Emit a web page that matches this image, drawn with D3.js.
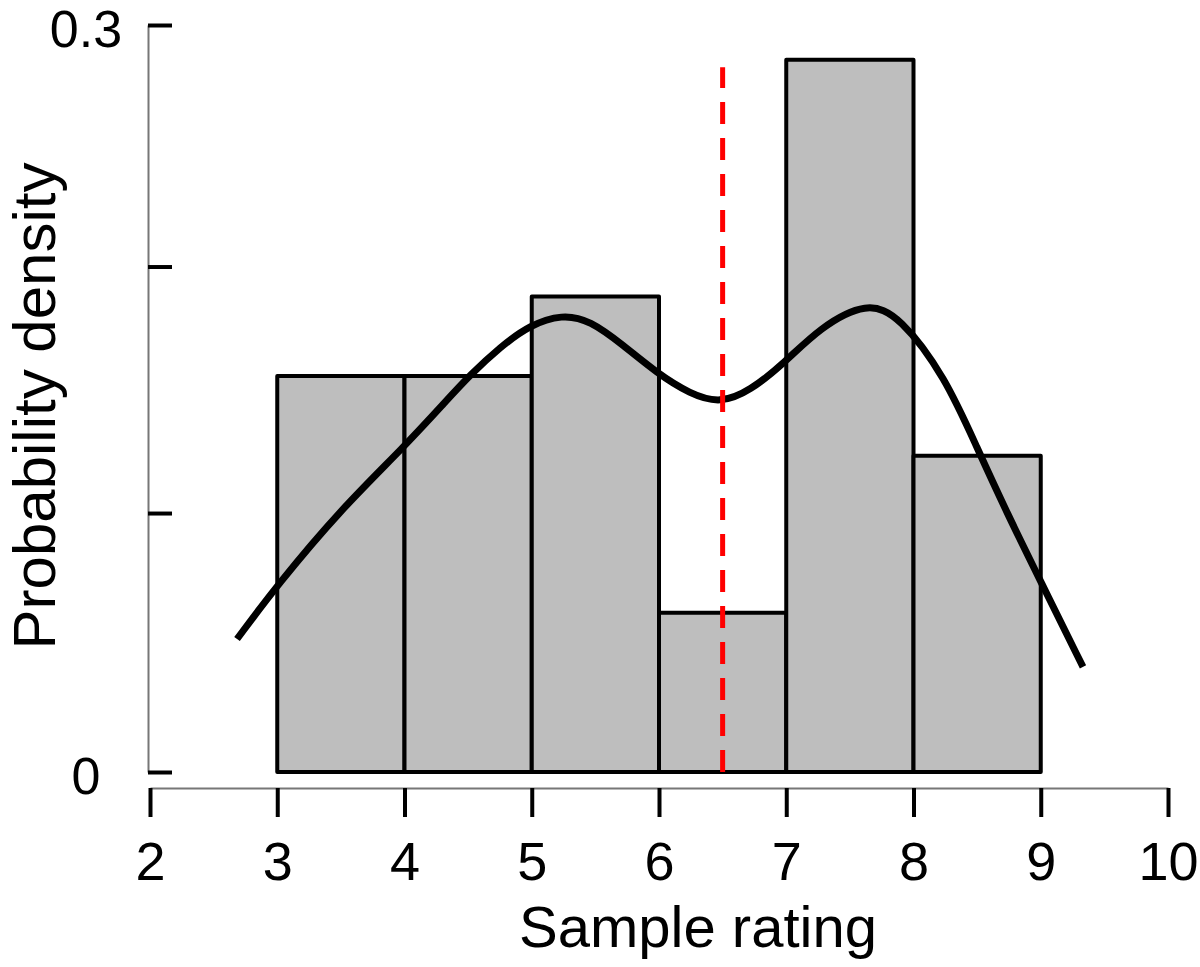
<!DOCTYPE html>
<html>
<head>
<meta charset="utf-8">
<script src="https://cdn.jsdelivr.net/npm/d3@7"></script>
<style>
  html, body { margin: 0; padding: 0; background: #fff; }
  text { font-family: "Liberation Sans", Arial, sans-serif; fill: #000; }
</style>
</head>
<body>
<div id="chart"></div>
<script>
// histogram bins (rating) and density heights
const binStart = [3, 4, 5, 6, 7, 8];
const binEnd = [4, 5, 6, 7, 8, 9];
const binDensity = [0.159, 0.159, 0.191, 0.064, 0.286, 0.127];

// kernel density curve, read point by point
const kdeX = [2.684, 3.0, 3.5, 3.996, 4.334, 4.515, 4.75, 4.986, 5.238, 5.458, 5.717, 5.984, 6.244, 6.479, 6.715, 6.990, 7.265, 7.635, 7.894, 8.25, 8.5, 8.735, 8.994, 9.332];
const kdeY = [0.0534, 0.0751, 0.1055, 0.1305, 0.1494, 0.1594, 0.1706, 0.1795, 0.1838, 0.1814, 0.1715, 0.1602, 0.1518, 0.1480, 0.1530, 0.1645, 0.1785, 0.1890, 0.1830, 0.1586, 0.1301, 0.1040, 0.0771, 0.0422];

// dashed reference line (mean rating)
const meanRating = 6.5;
const meanTop = 0.283;

// ticks
const xTicks = [2, 3, 4, 5, 6, 7, 8, 9, 10];
const yTicks = [0, 0.104, 0.203, 0.3];
const yTickLabels = ["0", "", "", "0.3"];

const width = 1200, height = 967;

const svg = d3.select("#chart")
    .append("svg")
    .attr("width", width)
    .attr("height", height);

const x = d3.scaleLinear().domain([2, 10]).range([150, 1168]);
const y = d3.scaleLinear().domain([0, 0.3]).range([772, 25]);

// bars
const bins = binStart.map((s, i) => ({start: s, end: binEnd[i], d: binDensity[i]}));
svg.append("g")
    .selectAll("rect")
    .data(bins)
    .enter()
    .append("rect")
    .attr("x", b => x(b.start))
    .attr("y", b => y(b.d))
    .attr("width", b => x(b.end) - x(b.start))
    .attr("height", b => y(0) - y(b.d))
    .attr("fill", "#bebebe")
    .attr("stroke", "#000")
    .attr("stroke-width", 4)
    .attr("stroke-linejoin", "round");

// density curve
const kde = kdeX.map((v, i) => [v, kdeY[i]]);
svg.append("path")
    .datum(kde)
    .attr("fill", "none")
    .attr("stroke", "#000")
    .attr("stroke-width", 7)
    .attr("d", d3.line()
        .x(p => x(p[0]))
        .y(p => y(p[1]))
        .curve(d3.curveBasis));

// mean line
svg.append("line")
    .attr("x1", x(meanRating))
    .attr("x2", x(meanRating))
    .attr("y1", y(0))
    .attr("y2", y(meanTop))
    .attr("stroke", "#ff0000")
    .attr("stroke-width", 5)
    .attr("stroke-dasharray", "22 14");

// y axis
const yAxis = svg.append("g")
    .attr("transform", "translate(148,0)")
    .call(d3.axisLeft(y)
        .tickValues(yTicks)
        .tickFormat((d, i) => yTickLabels[i])
        .tickSizeInner(-24)
        .tickSizeOuter(0));
yAxis.select(".domain").attr("stroke", "#777").attr("stroke-width", 2);
yAxis.selectAll(".tick line").attr("stroke", "#000").attr("stroke-width", 4);
yAxis.selectAll(".tick text")
    .attr("x", -62)
    .attr("dy", "0.42em")
    .attr("text-anchor", "middle")
    .style("font-size", "52px")
    .style("font-family", "'Liberation Sans', Arial, sans-serif");

// x axis
const xAxis = svg.append("g")
    .attr("transform", "translate(0,788)")
    .call(d3.axisBottom(x)
        .tickValues(xTicks)
        .tickSizeInner(29)
        .tickSizeOuter(0));
xAxis.select(".domain").attr("stroke", "#777").attr("stroke-width", 2);
xAxis.selectAll(".tick line").attr("stroke", "#000").attr("stroke-width", 4);
xAxis.selectAll(".tick text")
    .attr("y", 92)
    .attr("dy", 0)
    .style("font-size", "54px")
    .style("font-family", "'Liberation Sans', Arial, sans-serif");

// axis titles
svg.append("text")
    .attr("x", 698)
    .attr("y", 947)
    .attr("text-anchor", "middle")
    .style("font-size", "58px")
    .text("Sample rating");

svg.append("text")
    .attr("transform", "translate(55,406) rotate(-90)")
    .attr("text-anchor", "middle")
    .style("font-size", "60px")
    .text("Probability density");
</script>
</body>
</html>
